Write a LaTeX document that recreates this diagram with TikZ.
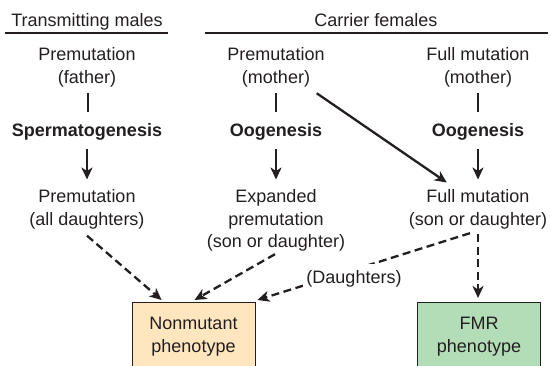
\documentclass[tikz,border=0pt]{standalone}
\usepackage{fontspec}
\setmainfont{Liberation Sans}
\usetikzlibrary{arrows.meta,calc}
\definecolor{ink}{HTML}{231F20}
\definecolor{peach}{HTML}{FFE6BF}
\definecolor{mint}{HTML}{B3DDB6}
\begin{document}
\begin{tikzpicture}[x=1pt,y=-1pt,
  txt/.style={inner sep=0pt,align=center,text=ink,font=\fontsize{18}{22.5}\selectfont},
  hd/.style={txt,anchor=base},
  proc/.style={txt,anchor=base,font=\fontsize{18}{22.5}\selectfont\bfseries},
  grp/.style={txt,anchor=north},
  outbox/.style={txt,anchor=north,draw=ink,line width=0.9pt,minimum width=123pt,inner ysep=15pt},
  rule/.style={ink,line width=1.4pt},
  link/.style={ink,line width=2.3pt},
  arr/.style={link,-{Stealth[length=12pt,width=11pt,inset=3.5pt]}},
  darr/.style={arr,dash pattern=on 8pt off 4.5pt}]
\useasboundingbox (0,0) rectangle (551,366);
\clip (0,0) rectangle (551,366);
% headers
\node[hd] (tm) at (87,27) {Transmitting males};
\node[hd] (cf) at (376,27) {Carrier females};
\coordinate (tmL) at (5,33); \coordinate (tmR) at (168,33);
\coordinate (cfL) at (205,33); \coordinate (cfR) at (548,33);
\draw[rule] (tmL) -- (tmR);
\draw[rule] (cfL) -- (cfR);
% row 1
\node[grp] (pf) at (87,47.6) {Premutation\\(father)};
\node[grp] (pm) at (276,47.6) {Premutation\\(mother)};
\node[grp] (fm) at (478,47.6) {Full mutation\\(mother)};
% row 2
\node[proc] (sp) at (87,137) {Spermatogenesis};
\node[proc] (og1) at (276,137) {Oogenesis};
\node[proc] (og2) at (478,137) {Oogenesis};
% row 3
\node[grp] (pd) at (87,189.5) {Premutation\\(all daughters)};
\node[grp] (ep) at (276,189.5) {Expanded\\premutation\\(son or daughter)};
\node[grp] (fs) at (478,189.5) {Full mutation\\(son or daughter)};
% outcome boxes
\node[outbox,fill=peach] (nm) at (193.5,302) {Nonmutant\\phenotype};
\node[outbox,fill=mint] (fmr) at (479,302) {FMR\\phenotype};
% plain links
\draw[link] ($(pf.south)+(1,6)$) -- ($(pf.south)+(1,25)$);
\draw[link] ($(pm.south)+(0,6)$) -- ($(pm.south)+(0,25)$);
\draw[link] ($(fm.south)+(0,6)$) -- ($(fm.south)+(0,25)$);
% solid arrows
\draw[arr] ($(sp.south)+(0,8)$) -- ($(pd.north)+(0,-10)$);
\draw[arr] ($(og1.south)+(0,8)$) -- ($(ep.north)+(0,-10)$);
\draw[arr] ($(og2.south)+(0,8)$) -- ($(fs.north)+(0,-10)$);
\draw[arr] ($(pm.south east)+(-8,6)$) -- ($(fs.north west)+(38,-7)$);
% dashed arrows
\draw[darr] ($(pd.south)+(0,6.5)$) -- ($(nm.north west)+(30,-2)$);
\draw[darr] ($(ep.south)+(-1,2.5)$) -- ($(nm.north west)+(63,-2)$);
\draw[darr] ($(fs.south)+(-8,4)$) -- ($(nm.north east)+(2,-2)$);
\node[txt,fill=white,inner xsep=3pt,inner ysep=7pt] (dl) at (354,279) {(Daughters)};
\draw[darr] ($(fs.south)+(0,5)$) -- ($(fmr.north)+(-1,-4)$);
\end{tikzpicture}
\end{document}
